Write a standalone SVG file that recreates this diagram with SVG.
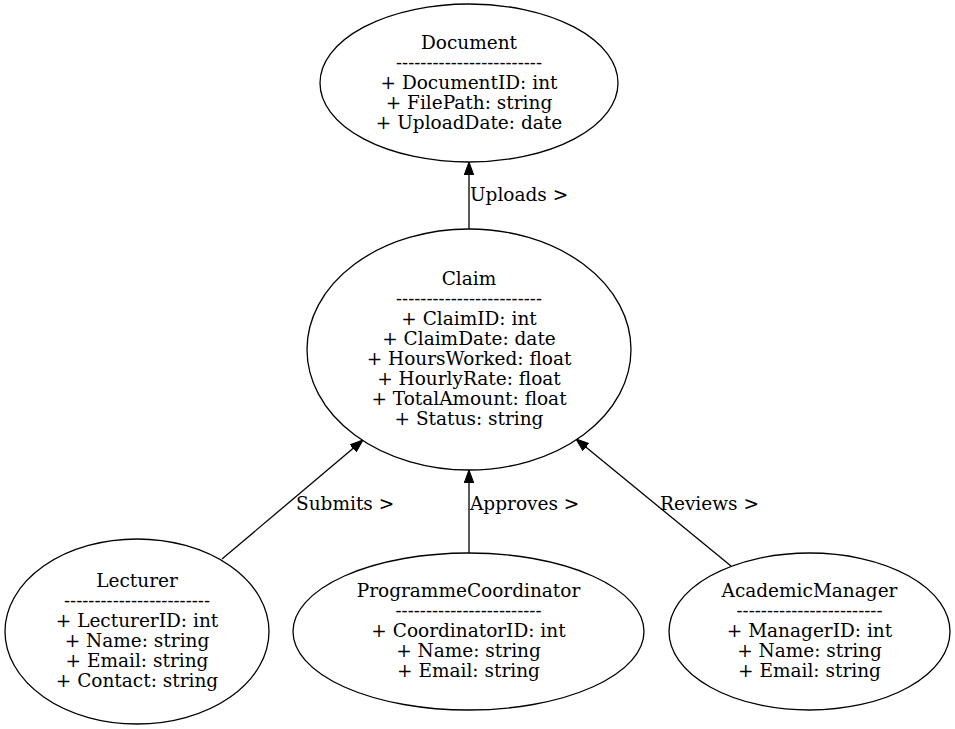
<svg xmlns="http://www.w3.org/2000/svg" width="955" height="729" viewBox="0 0 955 729">
<style>
text{font-family:"DejaVu Serif","Liberation Serif",serif;font-size:18.5px;fill:#000}
text.d{font-size:18px}
.n text{text-anchor:middle}
ellipse{fill:#fff;stroke:#000;stroke-width:1.3}
.e line{stroke:#000;stroke-width:1.3;marker-end:url(#ah)}
</style>
<defs>
<marker id="ah" markerUnits="userSpaceOnUse" markerWidth="14" markerHeight="10" refX="13" refY="4.8" orient="auto">
<path d="M0,0 L13,4.8 L0,9.6 z" fill="#000" stroke="#000" stroke-width="1"/>
</marker>
</defs>
<rect width="955" height="729" fill="#fff"/>
<g id="edges" class="e">
<line x1="469" y1="229" x2="469" y2="162"/>
<line x1="222" y1="559" x2="363" y2="440"/>
<line x1="469" y1="553" x2="469" y2="470"/>
<line x1="731" y1="566" x2="576" y2="439"/>
<text x="470" y="201">Uploads &gt;</text>
<text x="296" y="510">Submits &gt;</text>
<text x="470" y="510">Approves &gt;</text>
<text x="660" y="510">Reviews &gt;</text>
</g>
<g id="Document" class="n">
<ellipse cx="469" cy="83" rx="149" ry="79"/>
<text x="469" y="49">Document</text>
<text class="d" x="469" y="69">------------------------</text>
<text x="469" y="89">+ DocumentID: int</text>
<text x="469" y="109">+ FilePath: string</text>
<text x="469" y="129">+ UploadDate: date</text>
</g>
<g id="Claim" class="n">
<ellipse cx="469" cy="349.5" rx="162" ry="120.5"/>
<text x="469" y="285">Claim</text>
<text class="d" x="469" y="305">------------------------</text>
<text x="469" y="325">+ ClaimID: int</text>
<text x="469" y="345">+ ClaimDate: date</text>
<text x="469" y="365">+ HoursWorked: float</text>
<text x="469" y="385">+ HourlyRate: float</text>
<text x="469" y="405">+ TotalAmount: float</text>
<text x="469" y="425">+ Status: string</text>
</g>
<g id="Lecturer" class="n">
<ellipse cx="137" cy="631.5" rx="132" ry="92.5"/>
<text x="137" y="587">Lecturer</text>
<text class="d" x="137" y="607">------------------------</text>
<text x="137" y="627">+ LecturerID: int</text>
<text x="137" y="647">+ Name: string</text>
<text x="137" y="667">+ Email: string</text>
<text x="137" y="687">+ Contact: string</text>
</g>
<g id="ProgrammeCoordinator" class="n">
<ellipse cx="468.5" cy="631.5" rx="175.5" ry="78.5"/>
<text x="468.5" y="597">ProgrammeCoordinator</text>
<text class="d" x="468.5" y="617">------------------------</text>
<text x="468.5" y="637">+ CoordinatorID: int</text>
<text x="468.5" y="657">+ Name: string</text>
<text x="468.5" y="677">+ Email: string</text>
</g>
<g id="AcademicManager" class="n">
<ellipse cx="809.5" cy="631.5" rx="140.5" ry="78.5"/>
<text x="809.5" y="597">AcademicManager</text>
<text class="d" x="809.5" y="617">------------------------</text>
<text x="809.5" y="637">+ ManagerID: int</text>
<text x="809.5" y="657">+ Name: string</text>
<text x="809.5" y="677">+ Email: string</text>
</g>
</svg>
